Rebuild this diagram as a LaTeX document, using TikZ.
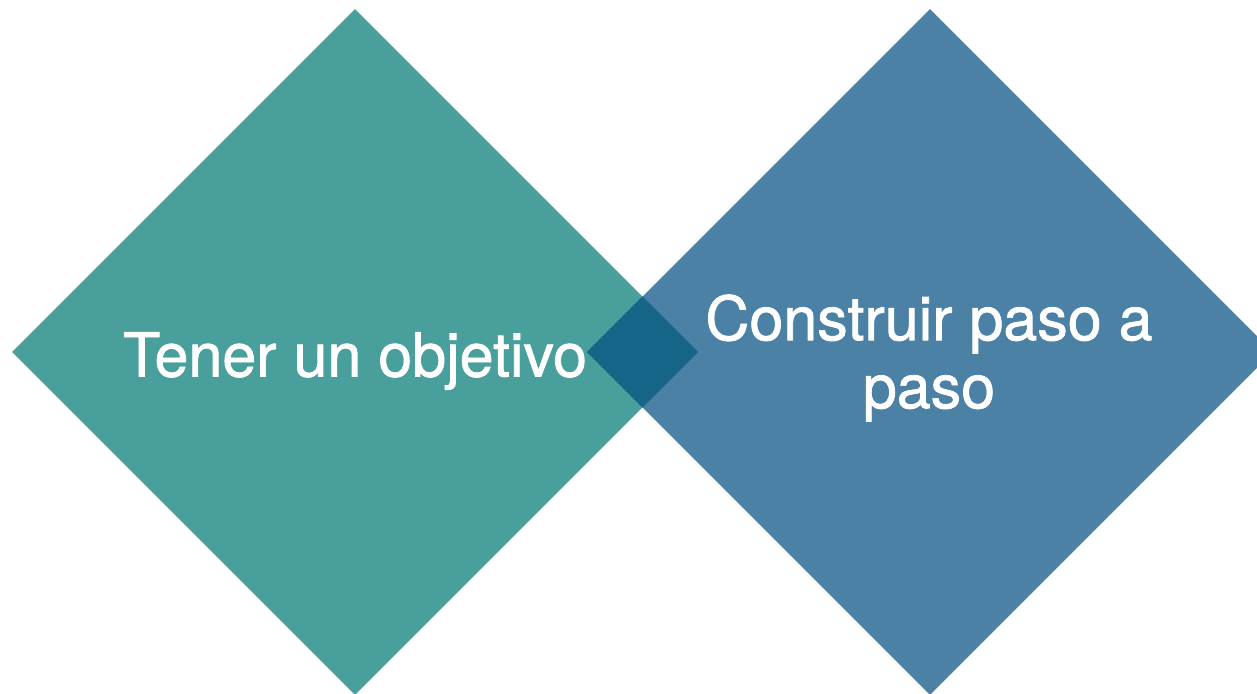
\documentclass[tikz,border=0pt]{standalone}
\usepackage{fontspec}
\setmainfont{TeX Gyre Heros}
\newfontfamily\labelfont{TeX Gyre Heros}[FakeBold=1.2]
\usepackage{tikz}
\usepackage{xcolor}
\usetikzlibrary{positioning,shapes.geometric,calc}
\definecolor{tealfill}{HTML}{489F9B}
\definecolor{bluefill}{HTML}{4C81A6}
\definecolor{overlapfill}{HTML}{17668A}
\tikzset{
  bigdiamond/.style={
    diamond, aspect=1, draw=none, inner sep=0pt,
    minimum width=686pt, minimum height=686pt
  },
  diamondtext/.style={
    text=white, align=center, inner sep=0pt,
    font=\labelfont\fontsize{61}{68}\selectfont
  }
}

\begin{document}
\begin{tikzpicture}[x=1pt,y=-1pt]
  \useasboundingbox (0,0) rectangle (1257,693);
  % the two squares standing on a corner
  \node[bigdiamond,fill=tealfill] (tener) at (355,352) {};
  \node[bigdiamond,fill=bluefill] (paso) at (930,352) {};
  % where they overlap
  \begin{scope}
    \clip (tener.north) -- (tener.east) -- (tener.south) -- (tener.west) -- cycle;
    \fill[overlapfill] (paso.north) -- (paso.east) -- (paso.south) -- (paso.west) -- cycle;
  \end{scope}
  % labels
  \node[diamondtext] (tenerlabel) at ($(tener.center)+(0,9)$) {Tener un objetivo};
  \node[diamondtext] (pasolabel) at ($(paso.center)+(-1,6)$) {Construir paso a\\paso};
\end{tikzpicture}
\end{document}
